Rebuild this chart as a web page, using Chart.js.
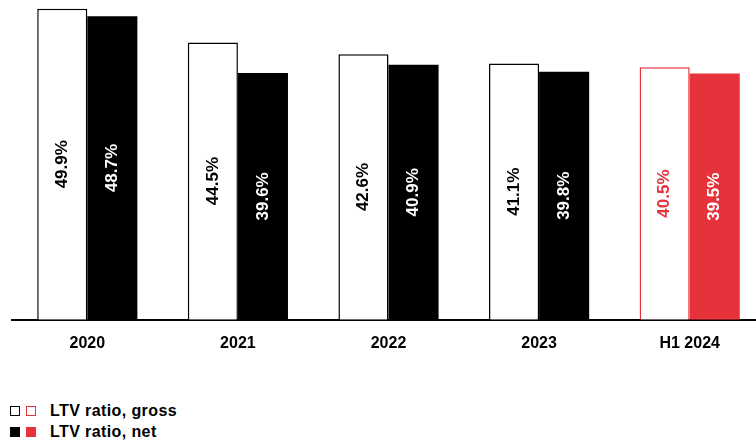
<!DOCTYPE html>
<html>
<head>
<meta charset="utf-8">
<script src="https://cdn.jsdelivr.net/npm/chart.js@4.4.1/dist/chart.umd.min.js"></script>
<style>
  html, body { margin: 0; padding: 0; background: #fff; overflow: hidden; }
  body { width: 756px; height: 445px; position: relative; font-family: "Liberation Sans", Arial, sans-serif; }
  #wrap { position: absolute; left: 0; top: 0; width: 765px; height: 367px; }
  .legend { position: absolute; left: 10px; top: 400px; font-weight: bold; font-size: 16px; letter-spacing: 0.4px; color: #000; }
  .row { height: 21px; display: flex; align-items: center; }
  .sw { width: 10px; height: 10px; box-sizing: border-box; margin-right: 6px; }
  .sw.last { margin-right: 14px; }
</style>
</head>
<body>
<div id="wrap"><canvas id="myChart" width="765" height="367"></canvas></div>
<div class="legend">
  <div class="row"><span class="sw" style="border:1.5px solid #000"></span><span class="sw last" style="border:1.5px solid #e5323b"></span>LTV ratio, gross</div>
  <div class="row"><span class="sw" style="background:#000"></span><span class="sw last" style="background:#e5323b"></span>LTV ratio, net</div>
</div>
<script>
const categories = ["2020", "2021", "2022", "2023", "H1 2024"];
const grossValues = [49.9, 44.5, 42.6, 41.1, 40.5];
const netValues = [48.7, 39.6, 40.9, 39.8, 39.5];
const RED = "#e5323b";

// etiquettes verticales au milieu des barres
const barLabels = {
  id: "barLabels",
  afterDatasetsDraw(chart) {
    const ctx = chart.ctx;
    chart.data.datasets.forEach((ds, di) => {
      const meta = chart.getDatasetMeta(di);
      meta.data.forEach((bar, i) => {
        const mid = (bar.y + bar.base) / 2;
        ctx.save();
        ctx.translate(bar.x, mid);
        ctx.rotate(-Math.PI / 2);
        ctx.font = "bold 17px 'Liberation Sans', Arial, sans-serif";
        ctx.textAlign = "center";
        ctx.textBaseline = "middle";
        ctx.fillStyle = ds.labelColors[i];
        ctx.fillText(ds.data[i].toFixed(1) + "%", 0, 0);
        ctx.restore();
      });
    });
  }
};

const last = categories.length - 1;
const ctx = document.getElementById("myChart").getContext("2d");
new Chart(ctx, {
  type: "bar",
  data: {
    labels: categories,
    datasets: [{
      label: "LTV ratio, gross",
      data: grossValues,
      backgroundColor: "#fff",
      borderColor: categories.map((c, i) => i === last ? RED : "#000"),
      borderWidth: 1.5,
      borderSkipped: "bottom",
      labelColors: categories.map((c, i) => i === last ? RED : "#000")
    }, {
      label: "LTV ratio, net",
      data: netValues,
      backgroundColor: categories.map((c, i) => i === last ? RED : "#000"),
      borderWidth: 0,
      labelColors: categories.map(() => "#fff")
    }]
  },
  options: {
    responsive: false,
    animation: false,
    categoryPercentage: 0.665,
    barPercentage: 1,
    layout: { padding: { left: 12, right: 0, top: 0, bottom: 0 } },
    plugins: { legend: { display: false }, tooltip: { enabled: false } },
    scales: {
      x: {
        grid: { display: false, drawTicks: false },
        border: { display: true, color: "#000", width: 2 },
        ticks: {
          color: "#000",
          padding: 14,
          font: { family: "'Liberation Sans', Arial, sans-serif", size: 16, weight: "bold" }
        }
      },
      y: { display: false, min: 0, max: 51.3 }
    }
  },
  plugins: [barLabels]
});
</script>
</body>
</html>
